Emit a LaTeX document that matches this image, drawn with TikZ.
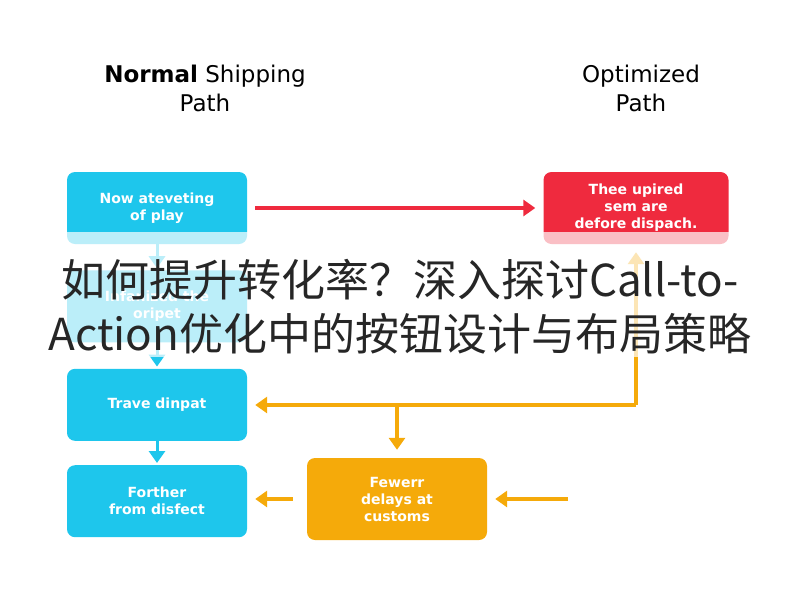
\documentclass[tikz,border=0pt]{standalone}
\usepackage{fontspec}
\setmainfont{DejaVu Sans}
\newfontfamily\cjk{Noto Sans CJK SC}
\usepackage{tikz}
\usetikzlibrary{arrows.meta,positioning,calc}
\definecolor{boxblue}{HTML}{1EC6EC}
\definecolor{boxred}{HTML}{EF2A3E}
\definecolor{boxorange}{HTML}{F5AA0A}

\begin{document}
\begin{tikzpicture}[x=1pt,y=-1pt,% styles for all boxes and arrows
			every node/.style={align=center},
			box/.style={rectangle,rounded corners=8pt,minimum width=180pt,minimum height=72pt,text=white,font=\fontsize{14}{17}\selectfont\bfseries},
			title/.style={font=\fontsize{23}{29}\selectfont},
			flow/.style={line width=4pt,-{Triangle[length=12pt,width=16pt]},shorten >=8pt,shorten <=8pt}
		]
		\useasboundingbox (0,0) rectangle (800,600);
		\node[title](T1) at (205,88){\textbf{Normal} Shipping\\Path};
		\node[title](T2) at (641,88){Optimized\\Path};
		\node[box,fill=boxblue](B1) at (157,208){Now ateveting\\of play};
		\node[box,fill=boxblue](B2)[below=26pt of B1]{Infanized the\\oripet};
		\node[box,fill=boxblue](B3)[below=26pt of B2]{Trave dinpat};
		\node[box,fill=boxblue](B4)[below=24pt of B3]{Forther\\from disfect};
		\node[box,fill=boxred,minimum width=185pt](R1) at (636,208){Thee upired\\sem are\\defore dispach.};
		\node[box,fill=boxorange,minimum height=82pt](O1) at (397,499){Fewerr\\delays at\\customs};
		\coordinate (J1) at (636,405);
		\coordinate (J2) at (397,405);
		\coordinate (S1) at (568,499);
		\draw[flow,boxred] (B1) -- (R1);
		\draw[flow,boxblue,line width=3pt,shorten >=2pt,shorten <=0pt] (B1) -- (B2);
		\draw[flow,boxblue,line width=3pt,shorten >=2pt,shorten <=0pt] (B2) -- (B3);
		\draw[flow,boxblue,line width=3pt,shorten >=2pt,shorten <=0pt] (B3) -- (B4);
		\draw[flow,boxorange,shorten <=0pt] (J1) -- (R1);
		\draw[flow,boxorange,shorten <=0pt] (J1) -- (J1 -| B3.east);
		\draw[flow,boxorange,shorten <=0pt] (J2) -- (O1);
		\draw[flow,boxorange,shorten <=14pt] (O1.west) -- (O1.west -| B4.east);
		\draw[flow,boxorange,shorten <=0pt] (S1) -- (O1.east);
		% overlay band
		\fill[white,opacity=0.7] (0,232) rectangle (800,357);
		\node[font=\fontsize{44}{54}\selectfont\cjk,text=black!85](H) at (400,307){如何提升转化率？深入探讨Call-to-\\Action优化中的按钮设计与布局策略};
	\end{tikzpicture}
\end{document}
